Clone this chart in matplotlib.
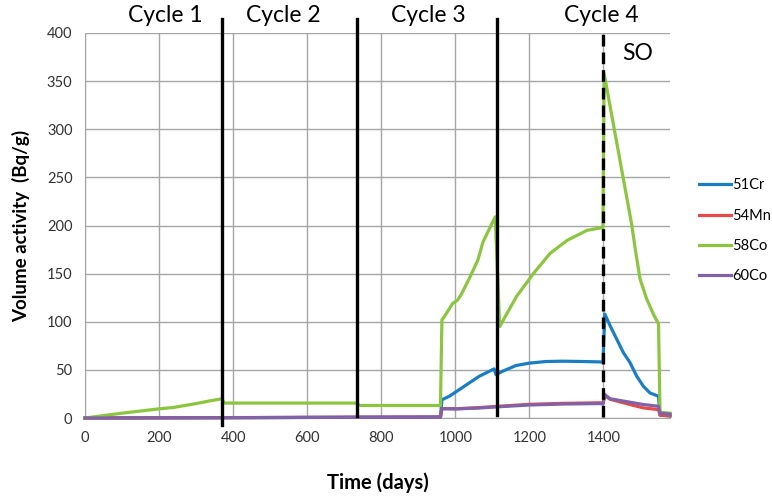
import matplotlib
matplotlib.use("Agg")
import matplotlib.pyplot as plt

# ---- data ----
cr51_days = [0, 370, 740, 960, 964, 984, 1011, 1038, 1065, 1105, 1110, 1128, 1164, 1200, 1245, 1290, 1344, 1389, 1399,
             1404, 1418, 1436, 1454, 1472, 1490, 1508, 1526, 1549, 1553, 1580]
cr51_vals = [0, 0.3, 0.8, 1, 19, 22.6, 29.5, 36.5, 43.4, 51, 45, 48.6, 54.5, 57, 58.7, 59, 58.7, 58.3, 58,
             108, 96, 82, 68, 57.5, 43.5, 33, 26, 22.6, 3, 2]

mn54_days = [0, 370, 740, 960, 964, 1002, 1065, 1110, 1200, 1290, 1389, 1399,
             1404, 1418, 1472, 1508, 1549, 1553, 1580]
mn54_vals = [0, 0.4, 0.8, 1, 9.8, 9.6, 10.8, 12, 14.2, 15.2, 15.8, 15.5,
             23.3, 19.5, 14, 10.5, 8.7, 3, 2.5]

co58_days = [0, 100, 200, 240, 300, 340, 370, 376, 735, 742, 960, 964, 970, 993, 1006, 1015, 1038, 1061, 1075, 1108,
             1120, 1165, 1211, 1256, 1302, 1356, 1393, 1399, 1402, 1477, 1486, 1499, 1517, 1535, 1549, 1553, 1580]
co58_vals = [0, 5, 9.5, 11, 15, 18, 20, 15.5, 15.5, 13, 13, 102, 105, 119, 122.4, 127.6, 145, 164, 183, 209,
             95, 126, 150, 171, 184.5, 195, 197.6, 198, 358, 200, 176, 144.6, 123.7, 108, 97.6, 6, 5]

co60_days = [0, 370, 740, 960, 964, 1002, 1065, 1110, 1200, 1290, 1389, 1399,
             1404, 1418, 1472, 1508, 1549, 1553, 1580]
co60_vals = [0, 0.3, 0.7, 0.9, 9.7, 9.4, 10.4, 11.5, 13.5, 14.5, 15, 14.5,
             24.4, 20, 16.4, 14, 12.2, 5, 4]

series_names = ["51Cr", "54Mn", "58Co", "60Co"]
series_colors = ["#1B7EC2", "#E84A4A", "#8CC540", "#8062A8"]

cycle_bounds = [370, 735, 1113]
shutdown_day = 1400
cycle_labels = ["Cycle 1", "Cycle 2", "Cycle 3", "Cycle 4"]
cycle_label_x = [216, 535, 927, 1395]

x_ticks = [0, 200, 400, 600, 800, 1000, 1200, 1400]
y_ticks = [0, 50, 100, 150, 200, 250, 300, 350, 400]

# ---- figure ----
plt.rcParams['font.family'] = ['Lato', 'DejaVu Sans']
fig = plt.figure(figsize=(7.72, 4.97), dpi=100)
ax = fig.add_axes([85/772, 1-418/497, (670-85)/772, (418-33)/497])

ax.set_xlim(0, 1580)
ax.set_ylim(0, 400)
ax.set_xticks(x_ticks)
ax.set_yticks(y_ticks)
ax.grid(True, color="#A6A6A6", linewidth=1.0)
ax.set_axisbelow(True)
for s in ["top", "right"]:
    ax.spines[s].set_visible(False)
for s in ["left", "bottom"]:
    ax.spines[s].set_color("#A6A6A6")
ax.tick_params(length=0, labelsize=10.5, colors="#333333", pad=9)

data = [(cr51_days, cr51_vals), (mn54_days, mn54_vals), (co58_days, co58_vals), (co60_days, co60_vals)]
for (d, v), name, c in zip(data, series_names, series_colors):
    ax.plot(d, v, color=c, linewidth=2.3, label=name, clip_on=False, zorder=3)

# cycle boundaries
ax.plot([cycle_bounds[0]]*2, [-7, 415], color="black", linewidth=2.4, clip_on=False, zorder=4)
ax.plot([cycle_bounds[1]]*2, [2, 415], color="black", linewidth=2.4, clip_on=False, zorder=4)
ax.plot([cycle_bounds[2]]*2, [3, 415], color="black", linewidth=2.4, clip_on=False, zorder=4)
ax.plot([shutdown_day]*2, [1, 400], color="black", linewidth=2.4, linestyle=(0, (3.5, 1.8)),
        clip_on=False, zorder=4)

for lbl, xx in zip(cycle_labels, cycle_label_x):
    ax.text(xx, 418, lbl, ha="center", va="center", fontsize=16.5, clip_on=False)
ax.text(1492, 379, "SO", ha="center", va="center", fontsize=16.5)

ax.set_xlabel("Time (days)", fontsize=14.5, fontweight="bold", labelpad=20)
ax.set_ylabel("Volume activity  (Bq/g)", fontsize=13.5, fontweight="bold", labelpad=12)

fig.legend(loc="upper left", bbox_to_anchor=(0.906, 0.641), frameon=False, fontsize=10.5,
           handlelength=2.15, handletextpad=0.1, labelspacing=1.12, borderpad=0.0,
           borderaxespad=0.0)

fig.savefig("out.png", dpi=100)
